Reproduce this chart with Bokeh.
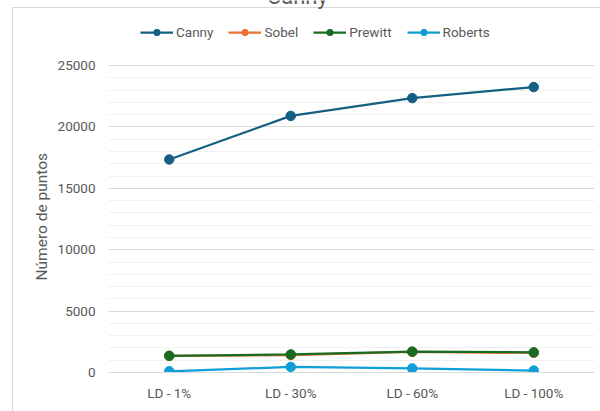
from bokeh.plotting import figure
from bokeh.models import (FactorRange, Range1d, FixedTicker, Legend, LegendItem,
                          Label, Title)
from bokeh.embed import file_html
from bokeh.resources import INLINE

# Number of detected points per edge detector and LD level
categories = ["LD - 1%", "LD - 30%", "LD - 60%", "LD - 100%"]
canny = [17350, 20900, 22350, 23250]
sobel = [1350, 1420, 1680, 1590]
prewitt = [1360, 1470, 1700, 1640]
roberts = [100, 450, 330, 160]

series_names = ["Canny", "Sobel", "Prewitt", "Roberts"]
series_values = [canny, sobel, prewitt, roberts]
series_colors = ["#156082", "#E97132", "#196B24", "#0F9ED5"]

y_ticks = [0, 5000, 10000, 15000, 20000, 25000]
y_minor = list(range(0, 25001, 1000))

FONT = "Roboto"
TEXT = "#595959"
GRID = "#d9d9d9"

# The plotting frame reaches the top edge so that the legend and the
# chart title can live inside it; the extra headroom above 25000 is blank.
p = figure(width=600, height=411, x_range=FactorRange(*categories, range_padding=0),
           y_range=Range1d(0, 30300), output_backend="svg", toolbar_location=None,
           title=None,
           min_border_left=108, min_border_right=6, min_border_top=0, min_border_bottom=39,
           background_fill_color=None, border_fill_color=None)
p.outline_line_color = None

# Chart area frame (top and left edges) painted behind the canvas
p.styles = {
    "background-color": "white",
    "background-image": "linear-gradient(#d9d9d9, #d9d9d9), linear-gradient(#d9d9d9, #d9d9d9)",
    "background-size": "1px 100%, 100% 1px",
    "background-position": "12px 7px, 12px 7px",
    "background-repeat": "no-repeat",
}

# Axes
p.yaxis.ticker = FixedTicker(ticks=y_ticks, minor_ticks=y_minor)
p.yaxis.axis_line_color = None
p.yaxis.major_tick_line_color = None
p.yaxis.minor_tick_line_color = None
p.yaxis.major_tick_out = 0
p.yaxis.minor_tick_out = 0
p.yaxis.major_label_standoff = 13
p.yaxis.major_label_text_font = FONT
p.yaxis.major_label_text_font_size = "13.5px"
p.yaxis.major_label_text_color = TEXT

p.xaxis.axis_line_color = GRID
p.xaxis.axis_line_width = 1
p.xaxis.major_tick_line_color = None
p.xaxis.minor_tick_line_color = None
p.xaxis.major_tick_out = 0
p.xaxis.minor_tick_out = 0
p.xaxis.major_label_standoff = 12
p.xaxis.major_label_text_font = FONT
p.xaxis.major_label_text_font_size = "13.5px"
p.xaxis.major_label_text_color = TEXT

# Y axis title, centred on the 0..25000 span
y_title = Title(text="Número de puntos", align="left", offset=92,
                vertical_align="middle", standoff=6,
                text_font=FONT, text_font_size="15.5px", text_font_style="normal",
                text_color=TEXT)
p.add_layout(y_title, "left")

# Grid
p.xgrid.grid_line_color = None
p.ygrid.grid_line_color = GRID
p.ygrid.minor_grid_line_color = "#f0f0f0"

# Series
items = []
for name, vals, col in zip(series_names, series_values, series_colors):
    ln = p.line(categories, vals, line_color=col, line_width=2.25)
    sc = p.scatter(categories, vals, marker="circle", size=9.5,
                   fill_color=col, line_color=col)
    items.append(LegendItem(label=name, renderers=[ln, sc]))

legend = Legend(items=items, orientation="horizontal", location=(32, 332),
                glyph_width=33, glyph_height=16, label_height=16,
                label_standoff=3, spacing=15, padding=0, margin=0,
                label_text_font=FONT, label_text_font_size="13.5px",
                label_text_color=TEXT, border_line_color=None,
                background_fill_alpha=0)
p.add_layout(legend, "center")

# Chart title, mostly above the top edge
title = Label(x=1.555, y=30650, text="Canny", text_align="center",
              text_baseline="alphabetic", text_font=FONT, text_font_size="22px",
              text_color=TEXT)
p.add_layout(title)

open("out.html", "w").write(file_html(p, INLINE))
